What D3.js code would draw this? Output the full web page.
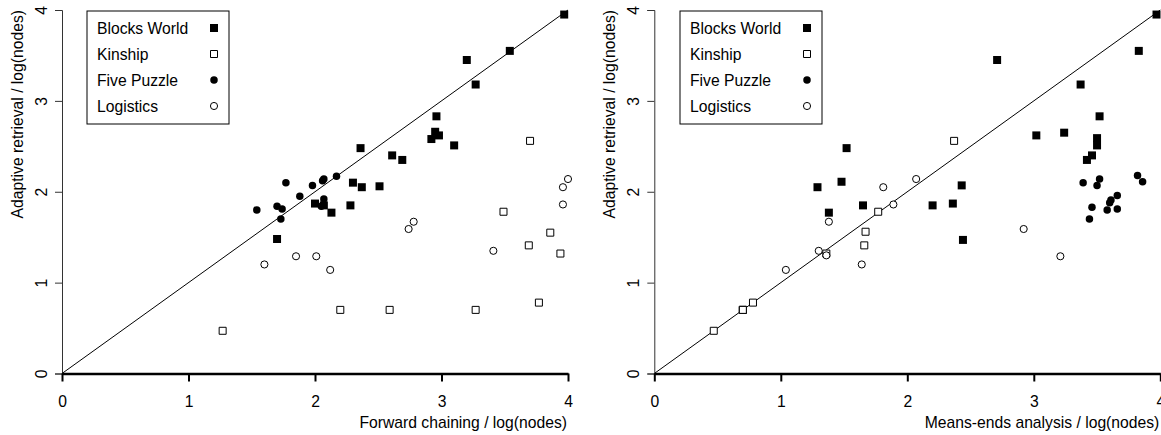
<!DOCTYPE html>
<html>
<head>
<meta charset="utf-8">
<script src="https://cdn.jsdelivr.net/npm/d3@7"></script>
<style>
  body { margin: 0; background: #fff; }
  svg { display: block; font-family: "Liberation Sans", Arial, sans-serif; }
</style>
</head>
<body>
<div id="chart"></div>
<script>
const WIDTH = 1161;
const HEIGHT = 435;
const FONT = 15.7;

// series names, in legend order
const SERIES = ["Blocks World", "Kinship", "Five Puzzle", "Logistics"];
const TICKS = [0, 1, 2, 3, 4];

// left panel: forward chaining (x) vs adaptive retrieval (y)
const fwdBlocks = [[1.70,1.48],[2.00,1.87],[2.07,1.85],[2.13,1.77],[2.28,1.85],[2.30,2.10],[2.37,2.05],
  [2.51,2.06],[2.36,2.48],[2.61,2.40],[2.69,2.35],[2.92,2.58],[2.95,2.66],[2.98,2.62],[2.96,2.83],
  [3.10,2.51],[3.20,3.45],[3.27,3.18],[3.54,3.55],[3.97,3.95]];
const fwdKinship = [[1.27,0.47],[2.20,0.70],[2.59,0.70],[3.27,0.70],[3.49,1.78],[3.70,2.56],[3.69,1.41],
  [3.86,1.55],[3.94,1.32],[3.77,0.78]];
const fwdPuzzle = [[1.54,1.80],[1.70,1.84],[1.74,1.81],[1.73,1.70],[1.77,2.10],[1.88,1.95],[1.98,2.07],
  [2.06,2.12],[2.07,2.14],[2.17,2.17],[2.07,1.92],[2.05,1.84]];
const fwdLogistics = [[1.60,1.20],[1.85,1.29],[2.01,1.29],[2.12,1.14],[2.74,1.59],[2.78,1.67],[3.41,1.35],
  [3.96,1.86],[3.96,2.05],[4.00,2.14]];

// right panel: means-ends analysis (x) vs adaptive retrieval (y)
const meaBlocks = [[1.29,2.05],[1.48,2.11],[1.52,2.48],[1.38,1.77],[1.65,1.85],[2.20,1.85],[2.36,1.87],
  [2.43,2.07],[2.44,1.47],[2.71,3.45],[3.02,2.62],[3.24,2.65],[3.37,3.18],[3.42,2.35],[3.46,2.40],
  [3.50,2.59],[3.50,2.51],[3.52,2.83],[3.83,3.55],[3.97,3.95]];
const meaKinship = [[0.47,0.47],[0.70,0.70],[0.70,0.70],[0.70,0.70],[0.78,0.78],[1.36,1.32],[1.66,1.41],
  [1.67,1.56],[1.77,1.78],[2.37,2.56]];
const meaPuzzle = [[3.39,2.10],[3.52,2.14],[3.50,2.07],[3.82,2.18],[3.86,2.11],[3.46,1.83],[3.44,1.70],
  [3.61,1.91],[3.66,1.96],[3.58,1.80],[3.66,1.81],[3.60,1.88]];
const meaLogistics = [[1.04,1.14],[1.30,1.35],[1.36,1.30],[1.38,1.67],[1.64,1.20],[1.81,2.05],[1.89,1.86],
  [2.07,2.14],[2.92,1.59],[3.21,1.29]];


window.onload = function() {

    var svg = d3.select("#chart").append("svg")
                .attr("width", WIDTH)
                .attr("height", HEIGHT);

    drawPanel(svg, 0, "Forward chaining / log(nodes)",
              [fwdBlocks, fwdKinship, fwdPuzzle, fwdLogistics]);
    drawPanel(svg, 592.3, "Means-ends analysis / log(nodes)",
              [meaBlocks, meaKinship, meaPuzzle, meaLogistics]);
};


function drawPanel(svg, dx, xTitle, sets) {

    var x = d3.scaleLinear().domain([0, 4]).range([62 + dx, 568 + dx]);
    var y = d3.scaleLinear().domain([0, 4]).range([373.5, 10]);

    var g = svg.append("g");

    // y axis (thin)
    var yAxis = g.append("g")
                 .attr("transform", "translate(" + x(0) + ",0)")
                 .call(d3.axisLeft(y).tickValues(TICKS).tickSize(7).tickFormat(d3.format("d")));
    yAxis.select(".domain").attr("stroke", "#333").attr("stroke-width", 1);
    yAxis.selectAll(".tick line").attr("stroke", "#333");
    yAxis.selectAll(".tick text")
         .attr("x", 0).attr("dy", 0)
         .attr("transform", "translate(-15,0) rotate(-90)")
         .attr("text-anchor", "middle")
         .attr("font-size", FONT)
         .attr("fill", "#000")
         .attr("font-family", "Liberation Sans, Arial, sans-serif");

    // x axis (thick)
    var xAxis = g.append("g")
                 .attr("transform", "translate(0," + y(0) + ")")
                 .call(d3.axisBottom(x).tickValues(TICKS).tickSize(8).tickSizeOuter(0).tickFormat(d3.format("d")));
    xAxis.select(".domain").attr("stroke", "#000").attr("stroke-width", 2.4);
    xAxis.selectAll(".tick line").attr("stroke", "#000").attr("stroke-width", 2);
    xAxis.selectAll(".tick text")
         .attr("y", 0).attr("dy", 0)
         .attr("transform", "translate(0,33)")
         .attr("font-size", FONT)
         .attr("fill", "#000")
         .attr("font-family", "Liberation Sans, Arial, sans-serif");

    // axis titles
    g.append("text")
     .attr("x", x(4) - 1).attr("y", 428)
     .attr("text-anchor", "end")
     .attr("font-size", FONT)
     .text(xTitle);

    g.append("text")
     .attr("transform", "translate(" + (23 + dx) + "," + y(4) + ") rotate(-90)")
     .attr("text-anchor", "end")
     .attr("font-size", FONT)
     .text("Adaptive retrieval / log(nodes)");

    // diagonal
    g.append("line")
     .attr("x1", x(0)).attr("y1", y(0))
     .attr("x2", x(4)).attr("y2", y(4))
     .attr("stroke", "#000").attr("stroke-width", 1);

    // points
    sets.forEach(function (pts, i) {
        var layer = g.append("g");
        layer.selectAll("path")
             .data(pts)
             .enter()
             .append("path")
             .attr("transform", function (d) { return "translate(" + x(d[0]) + "," + y(d[1]) + ")"; })
             .call(marker, i);
    });

    // legend
    var lg = g.append("g").attr("transform", "translate(" + (x(0) + 25 + (dx ? 0.7 : 0)) + ",11)");
    lg.append("rect")
      .attr("width", 142).attr("height", 113)
      .attr("fill", "#fff").attr("stroke", "#000").attr("stroke-width", 1);

    var rows = lg.selectAll("g.row")
                 .data(SERIES)
                 .enter()
                 .append("g")
                 .attr("class", "row")
                 .attr("transform", function (d, i) { return "translate(0," + (22.5 + i * 26) + ")"; });

    rows.append("text")
        .attr("x", 10)
        .attr("font-size", FONT)
        .text(function (d) { return d; });

    rows.append("path")
        .attr("transform", "translate(127,-5.5)")
        .each(function (d, i) { d3.select(this).call(marker, i); });
}


function marker(sel, i) {
    var filled = (i === 0 || i === 2);
    var sym = (i < 2) ? d3.symbolSquare : d3.symbolCircle;
    var size = (i === 0) ? 64 : (i === 1) ? 49 : (i === 2) ? 44 : 40;
    sel.attr("d", d3.symbol().type(sym).size(size))
       .attr("fill", filled ? "#000" : "#fff")
       .attr("stroke", "#000")
       .attr("stroke-width", filled ? 0 : 1);
}
</script>
</body>
</html>
